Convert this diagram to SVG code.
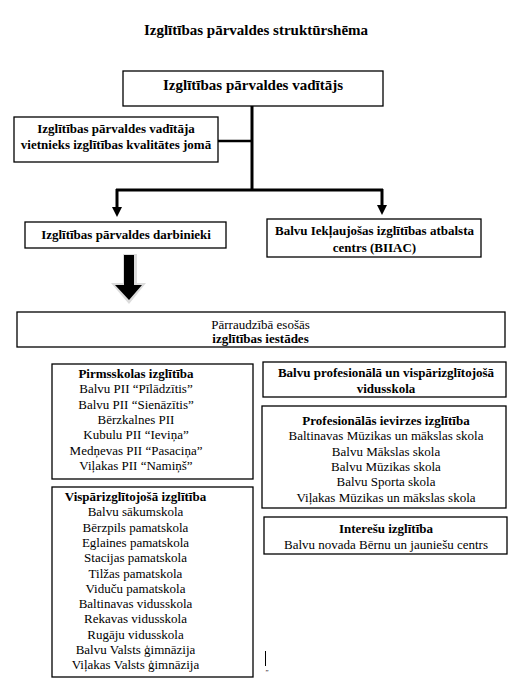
<svg xmlns="http://www.w3.org/2000/svg" width="526" height="699" viewBox="0 0 526 699">
<style>
text{font-family:"Liberation Serif","Times New Roman",serif;fill:#000;text-anchor:middle}
.t{font-size:15px;font-weight:bold}
.b{font-size:13px;font-weight:bold}
.r{font-size:13px}
.box{fill:#fff;stroke:#000;stroke-width:1.3}
.thick{stroke:#000;stroke-width:3;fill:none}
</style>
<defs>
<marker id="ah" markerUnits="userSpaceOnUse" markerWidth="12" markerHeight="12" refX="5" refY="10" orient="auto-start-reverse" viewBox="0 0 10 10">
<path d="M0,0 L10,0 L5,10 Z" fill="#000"/>
</marker>
</defs>
<rect width="526" height="699" fill="#fff"/>
<text class="t" x="256" y="35">Izglītības pārvaldes struktūrshēma</text>

<g id="connectors">
<line class="thick" x1="252" y1="105" x2="252" y2="190"/>
<line class="thick" x1="116" y1="190" x2="383" y2="190"/>
<line stroke="#000" stroke-width="2.5" x1="218" y1="141" x2="251" y2="141"/>
<path d="M117,189 V208" class="thick"/>
<path d="M112,207 L122,207 L117,217 Z" fill="#000"/>
<path d="M382,189 V206" class="thick"/>
<path d="M377,205 L387,205 L382,215 Z" fill="#000"/>
<g id="block-arrow">
<polygon points="123,254 137,254 137,283 146,283 129,304 111,283 123,283" fill="#dcdcdc"/>
<polygon points="124,255 134,255 134,285 142,285 129,300 115,285 124,285" fill="#000"/>
</g>
</g>

<g id="head">
<rect class="box" x="123" y="71" width="260" height="35"/>
<text class="t" x="253" y="89.5">Izglītības pārvaldes vadītājs</text>
</g>
<g id="deputy">
<rect class="box" x="14" y="117" width="204" height="45"/>
<text class="b" x="116" y="133">Izglītības pārvaldes vadītāja</text>
<text class="b" x="116" y="149">vietnieks izglītības kvalitātes jomā</text>
</g>
<g id="staff">
<rect class="box" x="25" y="222" width="201" height="26"/>
<text class="b" x="126" y="239">Izglītības pārvaldes darbinieki</text>
</g>
<g id="biiac">
<rect class="box" x="267" y="219" width="214" height="38"/>
<text class="b" x="374.5" y="235">Balvu Iekļaujošas izglītības atbalsta</text>
<text class="b" x="374.5" y="252">centrs (BIIAC)</text>
</g>
<g id="institutions">
<rect class="box" x="17" y="312" width="488" height="35"/>
<text class="r" x="260.5" y="329">Pārraudzībā esošās</text>
<text class="b" x="260.5" y="343">izglītības iestādes</text>
</g>
<g id="preschool">
<rect class="box" x="52" y="364" width="201" height="115"/>
<text class="b" x="136" y="378">Pirmsskolas izglītība</text>
<text class="r" x="136" y="393.3">Balvu PII “Pīlādzītis”</text>
<text class="r" x="136" y="408.6">Balvu PII “Sienāzītis”</text>
<text class="r" x="136" y="423.9">Bērzkalnes PII</text>
<text class="r" x="136" y="439.2">Kubulu PII “Ieviņa”</text>
<text class="r" x="136" y="454.5">Medņevas PII “Pasaciņa”</text>
<text class="r" x="136" y="469.8">Viļakas PII “Namiņš”</text>
</g>
<g id="general">
<rect class="box" x="52" y="487" width="201" height="190"/>
<text class="b" x="135.5" y="501">Vispārizglītojošā izglītība</text>
<text class="r" x="135.5" y="516.3">Balvu sākumskola</text>
<text class="r" x="135.5" y="531.6">Bērzpils pamatskola</text>
<text class="r" x="135.5" y="546.9">Eglaines pamatskola</text>
<text class="r" x="135.5" y="562.2">Stacijas pamatskola</text>
<text class="r" x="135.5" y="577.5">Tilžas pamatskola</text>
<text class="r" x="135.5" y="592.8">Viduču pamatskola</text>
<text class="r" x="135.5" y="608.1">Baltinavas vidusskola</text>
<text class="r" x="135.5" y="623.4">Rekavas vidusskola</text>
<text class="r" x="135.5" y="638.7">Rugāju vidusskola</text>
<text class="r" x="135.5" y="654">Balvu Valsts ģimnāzija</text>
<text class="r" x="135.5" y="669.3">Viļakas Valsts ģimnāzija</text>
</g>
<g id="vocational-secondary">
<rect class="box" x="263" y="362" width="243" height="35"/>
<text class="b" x="386" y="377">Balvu profesionālā un vispārizglītojošā</text>
<text class="b" x="386" y="393">vidusskola</text>
</g>
<g id="professional">
<rect class="box" x="262" y="406" width="244" height="102"/>
<text class="b" x="386" y="425">Profesionālās ievirzes izglītība</text>
<text class="r" x="386" y="440.3">Baltinavas Mūzikas un mākslas skola</text>
<text class="r" x="386" y="455.6">Balvu Mākslas skola</text>
<text class="r" x="386" y="470.9">Balvu Mūzikas skola</text>
<text class="r" x="386" y="486.2">Balvu Sporta skola</text>
<text class="r" x="386" y="501.5">Viļakas Mūzikas un mākslas skola</text>
</g>
<g id="interest">
<rect class="box" x="264" y="517" width="243" height="37"/>
<text class="b" x="386" y="533">Interešu izglītība</text>
<text class="r" x="386" y="549">Balvu novada Bērnu un jauniešu centrs</text>
</g>
<line x1="265.5" y1="651" x2="265.5" y2="666" stroke="#000" stroke-width="1"/>
<text x="267" y="674" style="font-size:7px">”</text>
</svg>
